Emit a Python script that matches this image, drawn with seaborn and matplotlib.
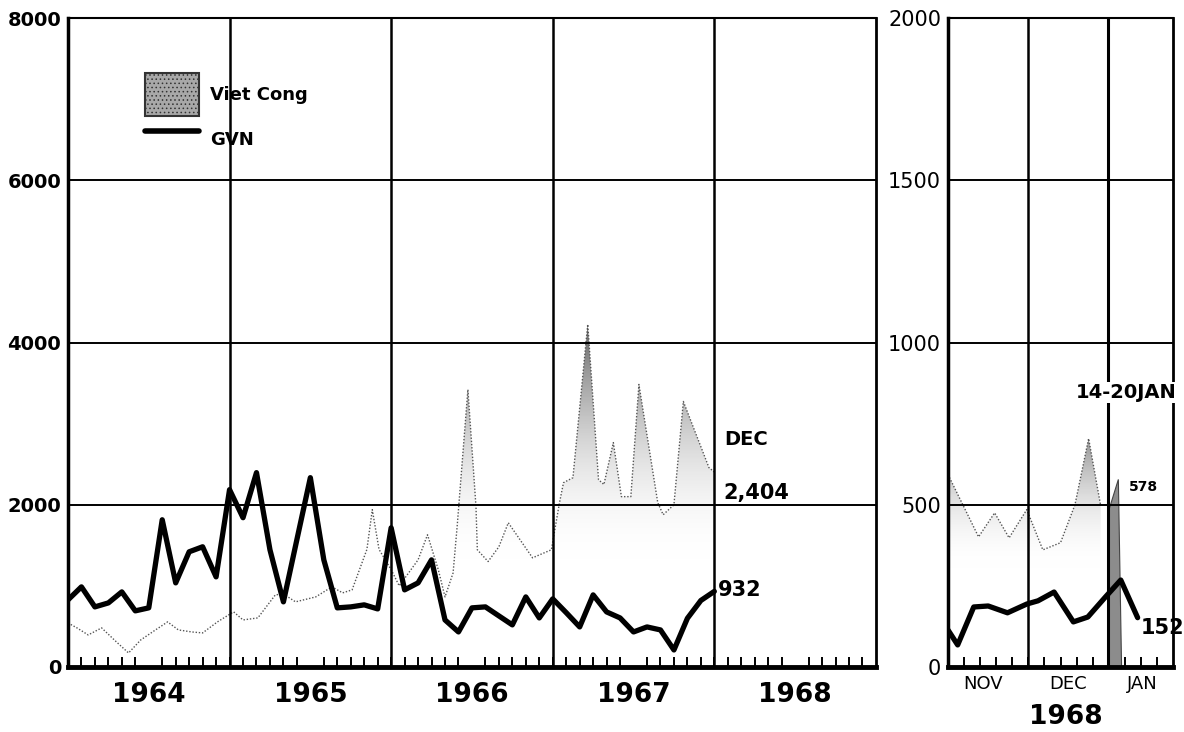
import numpy as np
import matplotlib
matplotlib.use('Agg')
import matplotlib.pyplot as plt
from matplotlib.colors import LinearSegmentedColormap, Normalize
from matplotlib.patches import Patch
from matplotlib.lines import Line2D
import seaborn as sns

# ---- monthly data, left panel (month 0 = start of 1964) ----
gvn_month = list(range(49))
gvn_value = [827, 988, 741, 790, 926, 692, 729, 1815, 1037, 1420, 1482, 1111,
             2186, 1840, 2396, 1445, 803, 1570, 2334, 1321, 729, 741, 766, 716,
             1716, 951, 1037, 1321, 580, 432, 729, 741, 630, 519, 864, 605,
             840, 670, 494, 889, 679, 605, 432, 494, 457, 210, 600, 820, 932]

vc_month = [0, 0.67, 1.5, 2.5, 3.6, 4.5, 5.4, 6.5, 7.4, 8.2, 9.2, 10, 11.1,
            12.3, 13, 14.1, 15.4, 16, 16.9, 18.4, 19.6, 20.4, 21.1, 22.2, 22.6, 23.1,
            24, 24.6, 26, 26.7, 27.5, 28, 28.6, 28.9, 29.7, 30.3, 30.4, 31.2, 32, 32.7, 34.5, 35.9,
            36.5, 36.8, 37.5, 38.6, 39.4, 39.8, 40.5, 41.1, 41.8, 42.4, 43.8, 44.2, 45, 45.7, 47.6, 48]
vc_value = [543, 482, 395, 482, 309, 173, 333, 457, 556, 457, 432, 420, 556,
            680, 580, 605, 889, 900, 803, 864, 988, 914, 951, 1450, 1939, 1450,
            1200, 1000, 1321, 1630, 1200, 864, 1160, 1730, 3420, 1976, 1445, 1300, 1482, 1778, 1346, 1445,
            2025, 2272, 2334, 4224, 2309, 2250, 2766, 2100, 2100, 3483, 2025, 1877, 2000, 3273, 2458, 2404]

years = ['1964', '1965', '1966', '1967', '1968']

# ---- weekly data, right panel (Nov 1967 - Jan 1968, week units) ----
vc_week = [0, 1.9, 2.9, 3.8, 4.9, 5.9, 7.0, 7.9, 8.75, 9.5]
vc_weekly = [593, 401, 475, 398, 485, 361, 383, 500, 704, 497]
jan_week = [9.95, 10.8]      # 14-20 JAN week
jan_value = 578
gvn_week = [0, 0.6, 1.6, 2.5, 3.7, 4.9, 5.6, 6.6, 7.8, 8.7, 9.8, 10.75, 11.8]
gvn_weekly = [114, 68, 185, 188, 167, 194, 204, 231, 139, 154, 216, 268, 152]
month_names = ['NOV', 'DEC', 'JAN']
month_pos = [2.2, 7.5, 12.1]

sns.set_style('white')
plt.rcParams['font.family'] = ['DejaVu Sans']
plt.rcParams['hatch.linewidth'] = 0.6
for k in ['text.color', 'axes.labelcolor', 'xtick.color', 'ytick.color']:
    plt.rcParams[k] = 'black'

# transparent at the low end so grid and ticks stay visible
stip = LinearSegmentedColormap.from_list('stip', [(1, 1, 1, 0), (0.3, 0.3, 0.3, 1)])


def stipple(ax, x, y, top, lo, hi):
    # gray fill that gets denser toward high values, like the printed dots
    poly = ax.fill_between(x, 0, y, facecolor='none', lw=0)
    grad = np.linspace(0, top, 400).reshape(-1, 1)
    im = ax.imshow(grad, extent=[x[0], x[-1], 0, top], origin='lower', aspect='auto',
                   cmap=stip, norm=Normalize(lo, hi), zorder=1, interpolation='bilinear')
    im.set_clip_path(poly.get_paths()[0], ax.transData)
    ax.plot(x, y, color='#555555', lw=1.0, ls=(0, (1, 1.3)), zorder=2)


fig = plt.figure(figsize=(11.84, 7.32), dpi=100)
ax = fig.add_axes([0.0574, 0.0888, 0.6824, 0.8866])
ax2 = fig.add_axes([0.8007, 0.0888, 0.19, 0.8866])

# ---- left panel ----
stipple(ax, vc_month, vc_value, 8000, 1300, 4400)
sns.lineplot(x=gvn_month, y=gvn_value, ax=ax, color='black', lw=3.8, zorder=4)
ax.set_xlim(0, 60)
ax.set_ylim(0, 8000)
for yv in [2000, 4000, 6000]:
    ax.axhline(yv, color='black', lw=1.4, zorder=3)
for xv in [12, 24, 36, 48]:
    ax.axvline(xv, color='black', lw=1.8, zorder=3)
ax.set_yticks([0, 2000, 4000, 6000, 8000])
ax.set_yticklabels(['0', '2000', '4000', '6000', '8000'], fontsize=14, fontweight='bold')
ax.set_xticks([6, 18, 30, 42, 54])
ax.set_xticklabels(years, fontsize=19, fontweight='bold')
ax.set_xticks(range(1, 60), minor=True)
ax.tick_params(axis='x', which='major', bottom=True, length=0, pad=11)
ax.tick_params(axis='x', which='minor', bottom=True, direction='in', length=7, width=1.4, color='black')
ax.tick_params(axis='y', left=True, length=0, pad=5)

ax.text(48.7, 2803, 'DEC', fontsize=14, fontweight='bold', va='center')
ax.text(48.7, 2149, '2,404', fontsize=15, fontweight='bold', va='center')
ax.text(48.3, 951, '932', fontsize=15, fontweight='bold', va='center')

handles = [Patch(facecolor='#a8a8a8', edgecolor='#333333', lw=1.5, hatch='....'),
           Line2D([], [], color='black', lw=4)]
ax.legend(handles, ['Viet Cong', 'GVN'], loc='upper left', bbox_to_anchor=(0.084, 0.929),
          frameon=False, handlelength=3, handleheight=3.3,
          labelspacing=0.1, borderpad=0, handletextpad=0.6,
          prop={'weight': 'bold', 'size': 13})

# ---- right panel ----
stipple(ax2, vc_week, vc_weekly, 2000, 300, 820)
ax2.fill([jan_week[0], jan_week[0], jan_week[1] - 0.2, jan_week[1]],
         [0, 0.82 * jan_value, jan_value, 0],
         facecolor='#8c8c8c', edgecolor='#444444', lw=0.8, zorder=2)
sns.lineplot(x=gvn_week, y=gvn_weekly, ax=ax2, color='black', lw=3.8, zorder=4, sort=False)
ax2.set_xlim(0, 14)
ax2.set_ylim(0, 2000)
for yv in [500, 1000, 1500]:
    ax2.axhline(yv, color='black', lw=1.4, zorder=3)
ax2.axvline(5, color='black', lw=1.8, zorder=3)
ax2.axvline(jan_week[0], color='black', lw=2.2, zorder=3)
ax2.set_yticks([0, 500, 1000, 1500, 2000])
ax2.set_yticklabels(['0', '500', '1000', '1500', '2000'], fontsize=15)
ax2.set_xticks(month_pos)
ax2.set_xticklabels(month_names, fontsize=13)
ax2.set_xticks(range(1, 14), minor=True)
ax2.tick_params(axis='x', which='major', bottom=True, length=0, pad=6)
ax2.tick_params(axis='x', which='minor', bottom=True, direction='in', length=7, width=1.4, color='black')
ax2.tick_params(axis='y', left=True, length=0, pad=5)

ax2.text(11.06, 846, '14-20JAN', fontsize=14, fontweight='bold', ha='center', va='center',
         zorder=6, bbox=dict(facecolor='white', edgecolor='none', pad=1))
ax2.text(11.25, 555, str(jan_value), fontsize=10, fontweight='bold', va='center')
ax2.text(12.0, 120, str(gvn_weekly[-1]), fontsize=15, fontweight='bold', va='center')
fig.text(1066 / 1184, 1 - 717 / 732, '1968', fontsize=19, fontweight='bold', ha='center', va='center')

for a in (ax, ax2):
    a.set_axisbelow(False)
    for side, w in [('left', 2.5), ('bottom', 3.5), ('top', 1.5), ('right', 2)]:
        a.spines[side].set_visible(True)
        a.spines[side].set_color('black')
        a.spines[side].set_linewidth(w)

fig.savefig('out.png', dpi=100)
